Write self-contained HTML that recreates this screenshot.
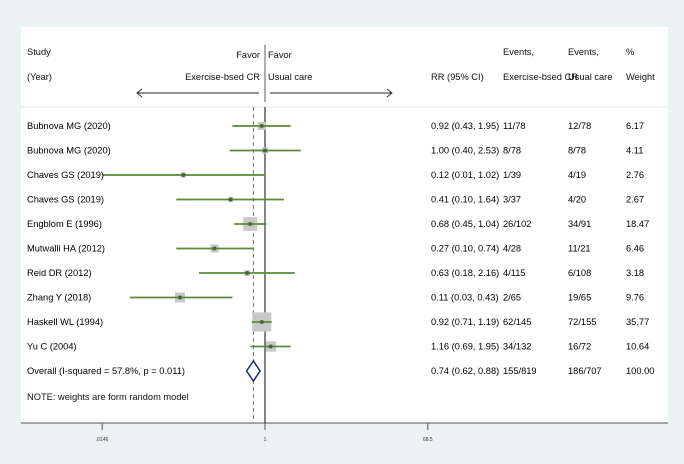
<!DOCTYPE html>
<html><head><meta charset="utf-8"><style>
body{margin:0;background:#eaf2f3;}
svg{display:block;font-family:"Liberation Sans",sans-serif;}
</style></head><body>
<svg id="c" width="684" height="464">
<rect x="21" y="27" width="647" height="396" fill="#fff"/>
<g font-size="9.3" fill="#111">
<text x="27" y="55">Study</text>
<text x="27" y="80">(Year)</text>
<text x="260" y="58" text-anchor="end">Favor</text>
<text x="260" y="80" text-anchor="end">Exercise-bsed CR</text>
<text x="268" y="58">Favor</text>
<text x="268" y="80">Usual care</text>
<text x="431" y="80">RR (95% CI)</text>
<text x="503" y="55">Events,</text>
<text x="503" y="80">Exercise-bsed CR</text>
<text x="568" y="55">Events,</text>
<text x="568" y="80">Usual care</text>
<text x="626" y="55">%</text>
<text x="626" y="80">Weight</text>
<text x="27" y="400">NOTE: weights are form random model</text>
</g>
<g stroke="#222" stroke-width="0.9" fill="none">
<line x1="137" y1="93" x2="259" y2="93"/><polyline points="142,89 137,93 142,97"/>
<line x1="270" y1="93" x2="392" y2="93"/><polyline points="387,89 392,93 387,97"/>
</g>
<line x1="265" y1="45" x2="265" y2="102" stroke="#777" stroke-width="1.2"/>
<line x1="21" y1="107" x2="668" y2="107" stroke="#ddd" stroke-width="0.8"/>
<line x1="21" y1="423" x2="668" y2="423" stroke="#555" stroke-width="1"/>
<g id="marks"></g>
</svg>
<script>
const studies=["Bubnova MG (2020)","Bubnova MG (2020)","Chaves GS (2019)","Chaves GS (2019)","Engblom E (1996)","Mutwalli HA (2012)","Reid DR (2012)","Zhang Y (2018)","Haskell WL (1994)","Yu C (2004)"];
const rr=[0.92,1.00,0.12,0.41,0.68,0.27,0.63,0.11,0.92,1.16];
const lo=[0.43,0.40,0.01,0.10,0.45,0.10,0.18,0.03,0.71,0.69];
const hi=[1.95,2.53,1.02,1.64,1.04,0.74,2.16,0.43,1.19,1.95];
const evEx=["11/78","8/78","1/39","3/37","26/102","4/28","4/115","2/65","62/145","34/132"];
const evUc=["12/78","8/78","4/19","4/20","34/91","11/21","6/108","19/65","72/155","16/72"];
const weight=[6.17,4.11,2.76,2.67,18.47,6.46,3.18,9.76,35.77,10.64];
const overall=[0.74,0.62,0.88];
const overallEv=["155/819","186/707","100.00"];
const ticks=[0.0146,1,68.5];
const tickLabels=[".0146","1","68.5"];
const NS="http://www.w3.org/2000/svg";
const g=document.getElementById('marks');
const x=v=>265+88.7*Math.log10(v);
const y=i=>126+24.5*i;
const xmin=x(0.0146);
function el(t,a,txt){const e=document.createElementNS(NS,t);for(const k in a)e.setAttribute(k,a[k]);if(txt!=null)e.textContent=txt;g.appendChild(e);return e;}
function fmt(v){return v.toFixed(2);}
let e=el('line',{x1:265,y1:107,x2:265,y2:423,stroke:'#333','stroke-width':1.2});


e=el('line',{x1:x(overall[0]),y1:107,x2:x(overall[0]),y2:423,stroke:'#c0505a','stroke-width':1,'stroke-dasharray':'4,3'});


studies.forEach((s,i)=>{
 const yy=y(i);
 const bs=3.2*Math.sqrt(weight[i]);
 let b=el('rect',{x:x(rr[i])-bs/2,y:yy-bs/2,width:bs,height:bs,fill:'#c8c8c8'});
 
 
 let l=el('line',{x1:Math.max(xmin,x(lo[i])),y1:yy,x2:x(hi[i]),y2:yy,stroke:'#5a8a3a','stroke-width':1.8});
 
 
 let p=el('circle',{cx:x(rr[i]),cy:yy,r:2,fill:'#3f6e2a'});
 
 
 let t=el('text',{x:27,y:yy+3,'font-size':9.3},s);
 
 
 t=el('text',{x:431,y:yy+3,'font-size':9.3},fmt(rr[i])+" ("+fmt(lo[i])+", "+fmt(hi[i])+")");
 
 
 t=el('text',{x:503,y:yy+3,'font-size':9.3},evEx[i]);
 
 
 t=el('text',{x:568,y:yy+3,'font-size':9.3},evUc[i]);
 
 
 t=el('text',{x:626,y:yy+3,'font-size':9.3},weight[i].toFixed(2));
 
 
});
const oy=y(10);
e=el('polygon',{points:`${x(overall[1])},${oy} ${x(overall[0])},${oy-10} ${x(overall[2])},${oy} ${x(overall[0])},${oy+10}`,fill:'#fff',stroke:'#1f2a6e','stroke-width':1.5});


e=el('text',{x:27,y:oy+3,'font-size':9.3},"Overall  (I-squared = 57.8%, p = 0.011)");


e=el('text',{x:431,y:oy+3,'font-size':9.3},fmt(overall[0])+" ("+fmt(overall[1])+", "+fmt(overall[2])+")");


[503,568,626].forEach((xx,k)=>{
 const t=el('text',{x:xx,y:oy+3,'font-size':9.3},overallEv[k]);
 
 
});
ticks.forEach((v,k)=>{
 const t=el('line',{x1:x(v),y1:423,x2:x(v),y2:430,stroke:'#555'});
 
 
 const lb=el('text',{x:x(v),y:441,'font-size':5,'text-anchor':'middle',fill:'#333'},tickLabels[k]);
 
 
});
</script>
</body></html>
